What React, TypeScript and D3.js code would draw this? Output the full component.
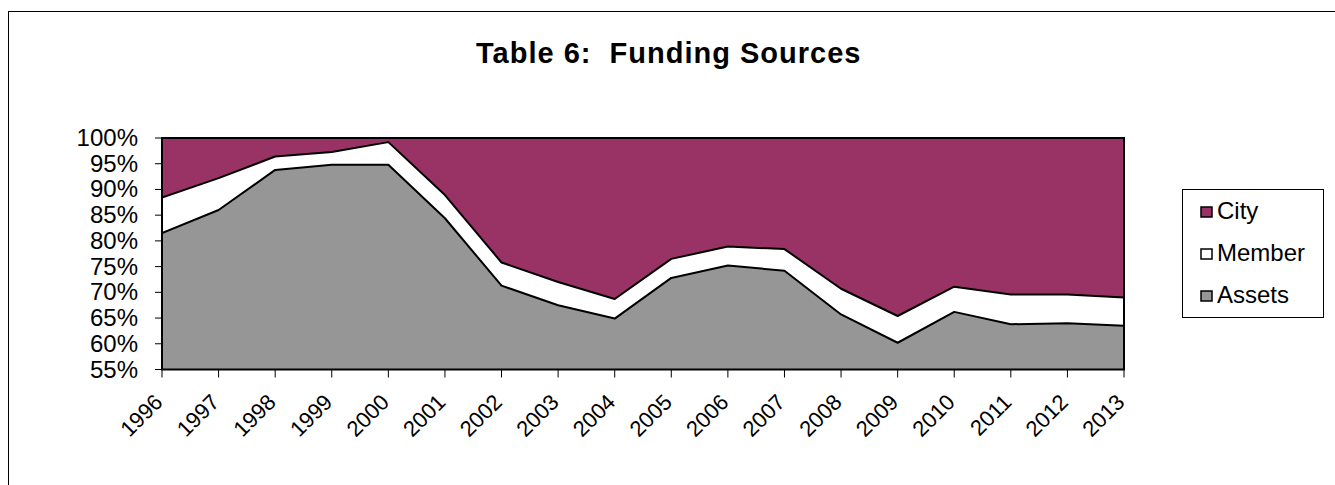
import * as d3 from "d3";
import { useEffect, useRef } from "react";

const years = [
  "1996", "1997", "1998", "1999", "2000", "2001", "2002", "2003", "2004",
  "2005", "2006", "2007", "2008", "2009", "2010", "2011", "2012", "2013",
];
const assets = [81.5, 86.0, 93.8, 94.8, 94.8, 84.4, 71.3, 67.5, 64.9, 72.8, 75.2, 74.2, 65.7, 60.2, 66.2, 63.8, 64.0, 63.5];
const member = [6.9, 6.2, 2.6, 2.5, 4.4, 4.5, 4.5, 4.5, 3.8, 3.7, 3.7, 4.2, 5.0, 5.2, 4.9, 5.8, 5.6, 5.5];
const city = [11.6, 7.8, 3.6, 2.7, 0.8, 11.1, 24.2, 28.0, 31.3, 23.5, 21.1, 21.6, 29.3, 34.6, 28.9, 30.4, 30.4, 31.0];
const yTicks = [55, 60, 65, 70, 75, 80, 85, 90, 95, 100];
const seriesNames = ["Assets", "Member", "City"];
const colors: Record<string, string> = { Assets: "#969696", Member: "#ffffff", City: "#993366" };

export default function App() {
  const ref = useRef<SVGSVGElement | null>(null);

  useEffect(() => {
    const width = 1335;
    const height = 485;
    const svg = d3.select(ref.current);
    svg.selectAll("*").remove();
    svg.attr("width", width).attr("height", height);

    const font = "'Liberation Sans', Arial, sans-serif";
    const left = 162, right = 1124, top = 138, bottom = 369.5;

    // outer chart border
    svg.append("rect")
      .attr("x", 8.5).attr("y", 11.5)
      .attr("width", width).attr("height", height)
      .attr("fill", "#fff").attr("stroke", "#000").attr("stroke-width", 1);

    svg.append("text")
      .attr("x", 476).attr("y", 63)
      .attr("xml:space", "preserve")
      .style("font-family", font)
      .style("font-size", "29px")
      .style("font-weight", "bold")
      .style("letter-spacing", "1px")
      .style("white-space", "pre")
      .text("Table 6:  Funding Sources");

    const data = years.map((y, i) => ({ year: y, Assets: assets[i], Member: member[i], City: city[i] }));

    const x = d3.scalePoint<string>().domain(years).range([left, right]);
    const y = d3.scaleLinear().domain([55, 100]).range([bottom, top]);

    const stack = d3.stack<any>().keys(seriesNames);
    const layers = stack(data);

    svg.append("defs").append("clipPath").attr("id", "plotClip")
      .append("rect").attr("x", left).attr("y", top)
      .attr("width", right - left).attr("height", bottom - top);

    const area = d3.area<any>()
      .x((d) => x(d.data.year)!)
      .y0((d) => y(d[0]))
      .y1((d) => y(d[1]));

    const g = svg.append("g").attr("clip-path", "url(#plotClip)");
    g.selectAll("path.layer")
      .data(layers)
      .enter()
      .append("path")
      .attr("class", "layer")
      .attr("d", area)
      .attr("fill", (d) => colors[d.key]);

    // boundary lines between layers
    const line = d3.line<any>()
      .x((d) => x(d.data.year)!)
      .y((d) => y(d[1]));
    g.selectAll("path.edge")
      .data(layers.slice(0, 2))
      .enter()
      .append("path")
      .attr("class", "edge")
      .attr("d", line)
      .attr("fill", "none")
      .attr("stroke", "#000")
      .attr("stroke-width", 2)
      .attr("stroke-linejoin", "round");

    // plot frame
    svg.append("rect")
      .attr("x", left).attr("y", top)
      .attr("width", right - left).attr("height", bottom - top)
      .attr("fill", "none").attr("stroke", "#000").attr("stroke-width", 2);

    // y axis
    const yAxis = svg.append("g");
    yTicks.forEach((t) => {
      yAxis.append("line")
        .attr("x1", left - 7).attr("x2", left)
        .attr("y1", y(t)).attr("y2", y(t))
        .attr("stroke", "#000").attr("stroke-width", 1);
      yAxis.append("text")
        .attr("x", 138).attr("y", y(t) + 8)
        .attr("text-anchor", "end")
        .style("font-family", font)
        .style("font-size", "24px")
        .text(`${t}%`);
    });

    // x axis
    const xAxis = svg.append("g");
    years.forEach((yr) => {
      const px = x(yr)!;
      xAxis.append("line")
        .attr("x1", px).attr("x2", px)
        .attr("y1", bottom).attr("y2", bottom + 8)
        .attr("stroke", "#000").attr("stroke-width", 1);
      xAxis.append("text")
        .attr("transform", `translate(${px + 2}, ${bottom + 34}) rotate(-45)`)
        .attr("text-anchor", "end")
        .style("font-family", font)
        .style("font-size", "22px")
        .text(yr);
    });

    // legend
    const legend = svg.append("g");
    legend.append("rect")
      .attr("x", 1182.5).attr("y", 189.5)
      .attr("width", 141).attr("height", 128)
      .attr("fill", "#fff").attr("stroke", "#000").attr("stroke-width", 1);
    ["City", "Member", "Assets"].forEach((name, i) => {
      const base = 219 + i * 42;
      legend.append("rect")
        .attr("x", 1201).attr("y", base - 12)
        .attr("width", 11).attr("height", 10)
        .attr("fill", colors[name]).attr("stroke", "#000").attr("stroke-width", 1.5);
      legend.append("text")
        .attr("x", 1217).attr("y", base)
        .style("font-family", font)
        .style("font-size", "24px")
        .text(name);
    });
  }, []);

  return (
    <div style={{ position: "absolute", left: 0, top: 0 }}>
      <svg ref={ref} style={{ display: "block" }}></svg>
    </div>
  );
}
